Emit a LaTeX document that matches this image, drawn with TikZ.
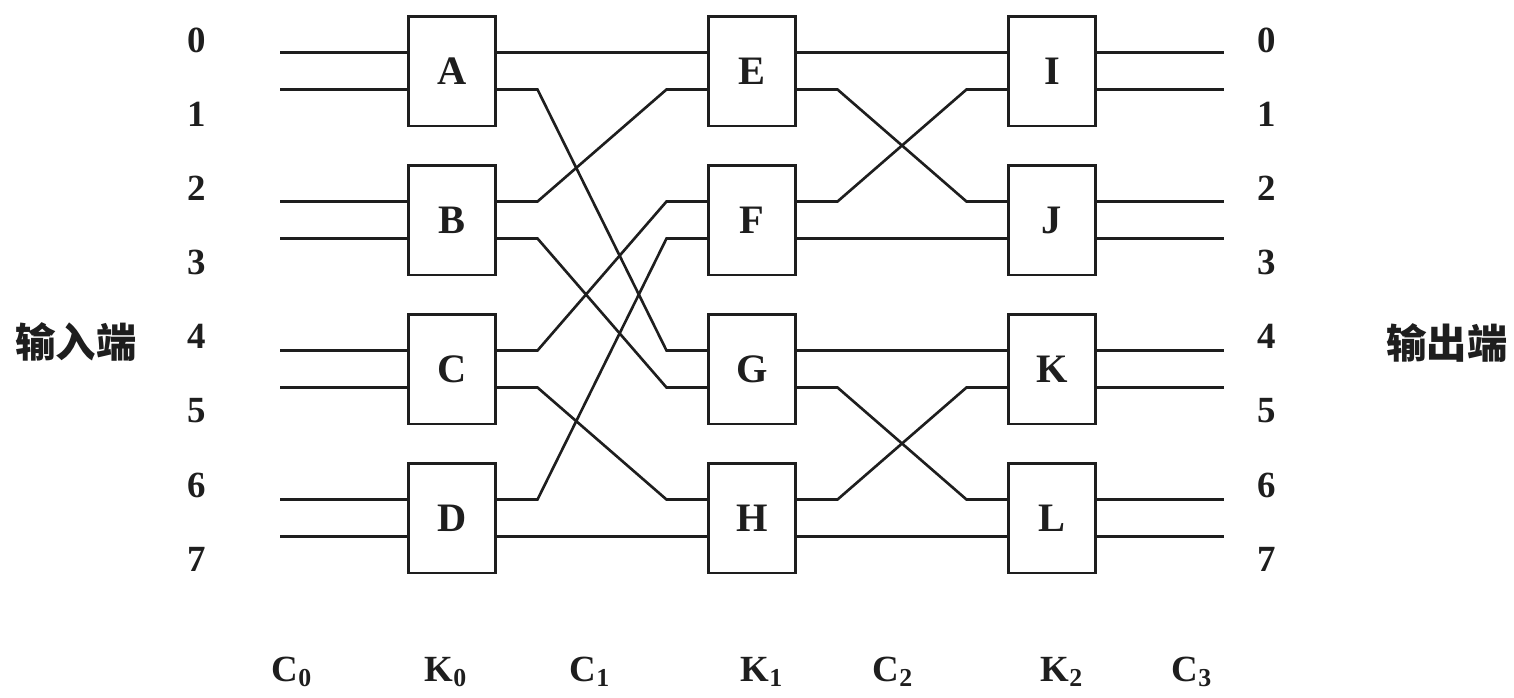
\documentclass[tikz,border=0pt]{standalone}
\usepackage{fontspec}
\setmainfont{Liberation Serif}
\newfontfamily\cjk{Noto Sans CJK SC}
\usetikzlibrary{calc,positioning}
\definecolor{WireBlack}{HTML}{1E1E1E}

\begin{document}
\begin{tikzpicture}[x=0.02cm, y=-0.02cm, line width=1.5pt, WireBlack,
  switchbox/.style={draw, fill=white, line width=1.7pt, minimum width=1.74cm, minimum height=2.2cm,
    inner sep=0pt, font=\fontsize{23}{23}\selectfont\bfseries},
  portlabel/.style={font=\fontsize{21}{21}\selectfont\bfseries},
  sidelabel/.style={font=\cjk\bfseries\fontsize{23}{23}\selectfont}]
\useasboundingbox (0,0) rectangle (1514,697);

\foreach \n/\x/\y in {A/452/71, B/452/220, C/452/369, D/452/518,
                      E/752/71, F/752/220, G/752/369, H/752/518,
                      I/1052/71, J/1052/220, K/1052/369, L/1052/518} {
  \node[switchbox] (\n) at (\x,\y) {\n};
  \coordinate (\n-in0) at (\x-43.5,\y-18.5);
  \coordinate (\n-in1) at (\x-43.5,\y+18.5);
  \coordinate (\n-out0) at (\x+43.5,\y-18.5);
  \coordinate (\n-out1) at (\x+43.5,\y+18.5);
}

\foreach \i in {0,...,7} {
  \pgfmathsetmacro{\wy}{71+149*floor(\i/2)+37*mod(\i,2)-18.5}
  \pgfmathsetmacro{\ly}{40+74.2*\i}
  \coordinate (in\i) at (280,\wy);
  \coordinate (out\i) at (1224,\wy);
  \node[portlabel] (inlabel\i) at (197,\ly) {\i};
  \node[portlabel] (outlabel\i) at (1267,\ly) {\i};
}

\foreach \n/\a/\b in {A/0/1, B/2/3, C/4/5, D/6/7} {
  \draw (in\a) -- (\n-in0);
  \draw (in\b) -- (\n-in1);
}
\foreach \n/\a/\b in {I/0/1, J/2/3, K/4/5, L/6/7} {
  \draw (\n-out0) -- (out\a);
  \draw (\n-out1) -- (out\b);
}

\foreach \s/\t in {A-out0/E-in0, A-out1/G-in0, B-out0/E-in1, B-out1/G-in1,
                   C-out0/F-in0, C-out1/H-in0, D-out0/F-in1, D-out1/H-in1,
                   E-out0/I-in0, E-out1/J-in0, F-out0/I-in1, F-out1/J-in1,
                   G-out0/K-in0, G-out1/L-in0, H-out0/K-in1, H-out1/L-in1}
  \draw (\s) -- ++(42,0) -- ($(\t)+(-42,0)$) -- (\t);

\node[sidelabel] (inputside) at (76,342) {输入端};
\node[sidelabel] (outputside) at (1447,343) {输出端};

\foreach \n/\x/\t in {c0/292/C\textsubscript{0}, k0/446/K\textsubscript{0},
                      c1/590/C\textsubscript{1}, k1/762/K\textsubscript{1},
                      c2/893/C\textsubscript{2}, k2/1062/K\textsubscript{2},
                      c3/1192/C\textsubscript{3}}
  \node[portlabel] (stage\n) at (\x,672) {\t};

\end{tikzpicture}
\end{document}
